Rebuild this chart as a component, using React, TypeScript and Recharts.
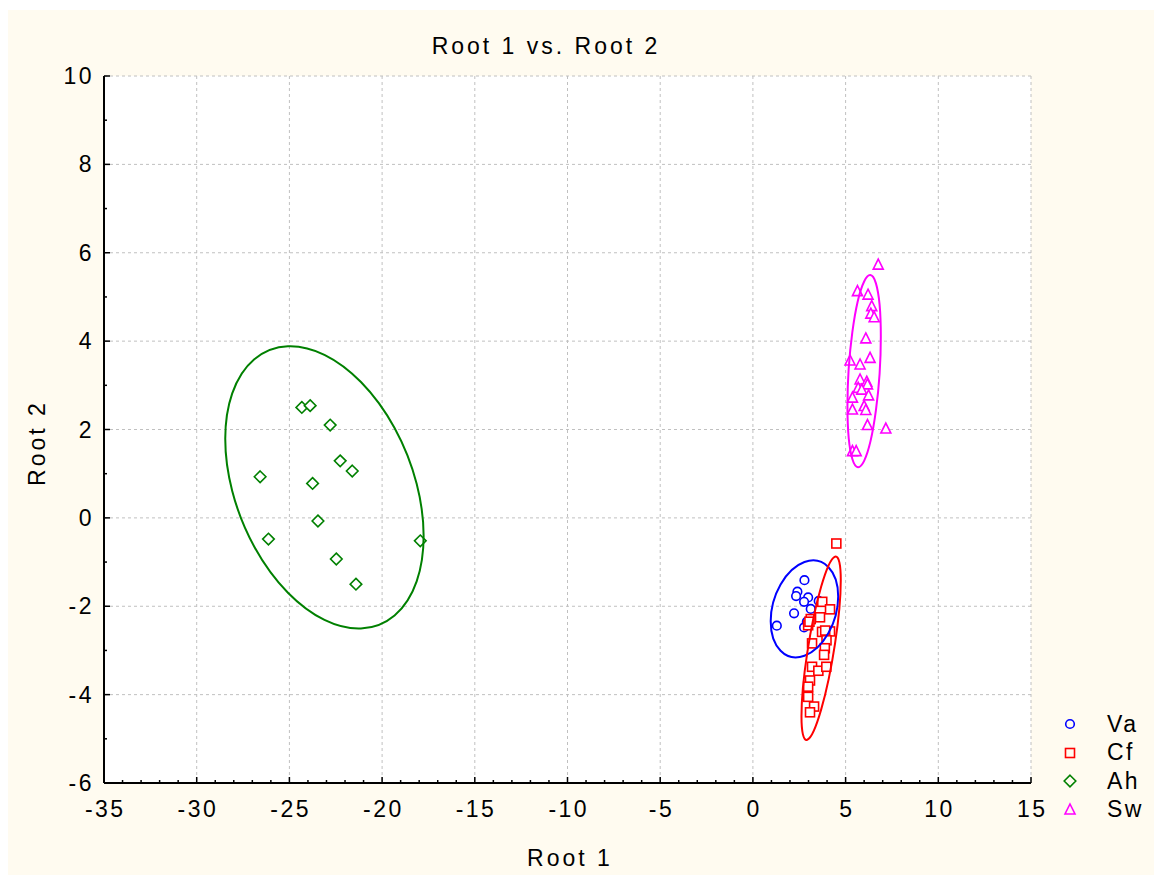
import React from 'react';
import { ScatterChart, Scatter, XAxis, YAxis, CartesianGrid } from 'recharts';

// Discriminant analysis scores, Root 1 vs Root 2
const groupNames = ['Va', 'Cf', 'Ah', 'Sw'];
const groupColors: Record<string, string> = { Va: '#0000ff', Cf: '#ff0000', Ah: '#008000', Sw: '#ff00ff' };
const groupMarkers: Record<string, string> = { Va: 'circle', Cf: 'square', Ah: 'diamond', Sw: 'triangle' };

const vaPoints = [
  { x: 2.78, y: -1.41 }, { x: 2.40, y: -1.67 }, { x: 2.33, y: -1.77 }, { x: 2.98, y: -1.80 },
  { x: 2.76, y: -1.90 }, { x: 3.12, y: -2.06 }, { x: 2.22, y: -2.16 }, { x: 1.29, y: -2.44 },
  { x: 2.76, y: -2.48 }, { x: 2.91, y: -2.35 }, { x: 3.55, y: -1.88 },
];

const cfPoints = [
  { x: 4.50, y: -0.58 }, { x: 3.74, y: -1.90 }, { x: 4.16, y: -2.07 }, { x: 3.62, y: -2.25 },
  { x: 3.12, y: -2.29 }, { x: 2.98, y: -2.43 }, { x: 3.73, y: -2.58 }, { x: 4.16, y: -2.57 },
  { x: 3.97, y: -2.77 }, { x: 3.19, y: -2.84 }, { x: 3.88, y: -2.95 }, { x: 3.84, y: -3.10 },
  { x: 3.19, y: -3.37 }, { x: 3.53, y: -3.46 }, { x: 3.96, y: -3.37 }, { x: 3.08, y: -3.68 },
  { x: 2.98, y: -3.82 }, { x: 2.98, y: -4.05 }, { x: 3.30, y: -4.27 }, { x: 3.08, y: -4.40 },
  { x: 3.05, y: -2.35 }, { x: 3.90, y: -2.55 },
];

const ahPoints = [
  { x: -24.33, y: 2.50 }, { x: -23.88, y: 2.54 }, { x: -22.80, y: 2.10 }, { x: -26.58, y: 0.93 },
  { x: -23.75, y: 0.78 }, { x: -22.26, y: 1.29 }, { x: -21.61, y: 1.06 }, { x: -23.46, y: -0.07 },
  { x: -26.13, y: -0.48 }, { x: -22.47, y: -0.93 }, { x: -21.41, y: -1.50 }, { x: -17.94, y: -0.52 },
];

const swPoints = [
  { x: 6.76, y: 5.72 }, { x: 5.64, y: 5.12 }, { x: 6.21, y: 5.04 }, { x: 6.41, y: 4.78 },
  { x: 6.36, y: 4.61 }, { x: 6.54, y: 4.53 }, { x: 6.09, y: 4.05 }, { x: 5.24, y: 3.55 },
  { x: 6.32, y: 3.61 }, { x: 5.78, y: 3.46 }, { x: 5.78, y: 3.12 }, { x: 6.14, y: 3.07 },
  { x: 6.18, y: 3.01 }, { x: 5.68, y: 2.93 }, { x: 5.87, y: 2.89 }, { x: 6.24, y: 2.76 },
  { x: 5.37, y: 2.71 }, { x: 6.00, y: 2.52 }, { x: 5.37, y: 2.44 }, { x: 6.09, y: 2.43 },
  { x: 6.18, y: 2.09 }, { x: 7.17, y: 2.01 }, { x: 5.37, y: 1.50 }, { x: 5.57, y: 1.50 },
];

// ellipses: centre, rightmost point on the ellipse, point on the ellipse straight above the centre
const vaEllipse = [
  { x: 2.78, y: -2.06, pt: 'center' }, { x: 4.60, y: -1.78, pt: 'right' }, { x: 2.78, y: -1.00, pt: 'top' },
];
const cfEllipse = [
  { x: 3.68, y: -2.95, pt: 'center' }, { x: 4.74, y: -1.41, pt: 'right' }, { x: 3.68, y: -1.56, pt: 'top' },
];
const ahEllipse = [
  { x: -23.11, y: 0.69, pt: 'center' }, { x: -17.76, y: -0.41, pt: 'right' }, { x: -23.11, y: 3.69, pt: 'top' },
];
const swEllipse = [
  { x: 6.00, y: 3.32, pt: 'center' }, { x: 6.90, y: 4.10, pt: 'right' }, { x: 6.00, y: 5.35, pt: 'top' },
];

const xMajor = [-35, -30, -25, -20, -15, -10, -5, 0, 5, 10, 15];
const yMajor = [-6, -4, -2, 0, 2, 4, 6, 8, 10];
const range = (a: number, b: number) => Array.from({ length: b - a + 1 }, (_, i) => a + i);
const xTicks = range(-35, 15);
const yTicks = range(-6, 10);

const FONT = '"Liberation Sans", Arial, Helvetica, sans-serif';
const FONT_SIZE = 23;
const TICK_SPACING = 2.5;
const TITLE_SPACING = 3;

const marker = (kind: string, cx: number, cy: number, color: string, fill: string) => {
  const common = { stroke: color, strokeWidth: 1.6, fill };
  if (kind === 'circle') return <circle cx={cx} cy={cy} r={4.3} {...common} />;
  if (kind === 'square') return <rect x={cx - 4.5} y={cy - 4.5} width={9} height={9} {...common} />;
  if (kind === 'diamond')
    return <path d={`M${cx},${cy - 5.8}L${cx + 5.8},${cy}L${cx},${cy + 5.8}L${cx - 5.8},${cy}Z`} {...common} />;
  return <path d={`M${cx},${cy - 6}L${cx + 5},${cy + 4}L${cx - 5},${cy + 4}Z`} {...common} />;
};

const pointShape = (name: string) => (p: any) =>
  marker(groupMarkers[name], p.cx, p.cy, groupColors[name], '#ffffff');

// draws the ellipse once all three reference points have been placed by the scales
const ellipseShape = (color: string) => {
  const placed: Record<string, { cx: number; cy: number }> = {};
  return (p: any) => {
    placed[p.payload.pt] = { cx: p.cx, cy: p.cy };
    if (p.payload.pt !== 'top' || !placed.center || !placed.right) return <g />;
    const c = placed.center;
    const r = placed.right;
    const t = placed.top;
    const m = `matrix(${r.cx - c.cx} ${r.cy - c.cy} ${t.cx - c.cx} ${t.cy - c.cy} ${c.cx} ${c.cy})`;
    return (
      <circle r={1} cx={0} cy={0} fill="none" stroke={color} strokeWidth={2}
        vectorEffect="non-scaling-stroke" transform={m} />
    );
  };
};

const tickText = { fontSize: FONT_SIZE, fontFamily: FONT, letterSpacing: TICK_SPACING, fill: '#000' };

const BottomTick = (p: any) => {
  const v = p.payload.value;
  const major = xMajor.includes(v);
  return (
    <g>
      <line x1={p.x} x2={p.x} y1={p.y} y2={p.y - (major ? 6 : 3)} stroke="#000" strokeWidth={1.5} />
      {major && (
        <text x={p.x + TICK_SPACING / 2} y={p.y + 34} textAnchor="middle" {...tickText}>{v}</text>
      )}
    </g>
  );
};

const TopTick = (p: any) => {
  const major = xMajor.includes(p.payload.value);
  return <line x1={p.x} x2={p.x} y1={p.y} y2={p.y + (major ? 6 : 3)} stroke="#000" strokeWidth={1.5} />;
};

const LeftTick = (p: any) => {
  const v = p.payload.value;
  const major = yMajor.includes(v);
  return (
    <g>
      <line x1={p.x} x2={p.x + (major ? 6 : 3)} y1={p.y} y2={p.y} stroke="#000" strokeWidth={1.5} />
      {major && (
        <text x={p.x - 10} y={p.y + 8} textAnchor="end" {...tickText}>{v}</text>
      )}
    </g>
  );
};

const RightTick = (p: any) => {
  const major = yMajor.includes(p.payload.value);
  return <line x1={p.x} x2={p.x - (major ? 6 : 3)} y1={p.y} y2={p.y} stroke="#000" strokeWidth={1.5} />;
};

const frameLine = { stroke: '#000', strokeWidth: 2 };

const textStyle: React.CSSProperties = {
  position: 'absolute',
  fontFamily: FONT,
  fontSize: FONT_SIZE,
  letterSpacing: TITLE_SPACING,
  color: '#000',
  whiteSpace: 'nowrap',
  lineHeight: 1,
};

const series = [
  { name: 'Va', points: vaPoints, ellipse: vaEllipse },
  { name: 'Cf', points: cfPoints, ellipse: cfEllipse },
  { name: 'Ah', points: ahPoints, ellipse: ahEllipse },
  { name: 'Sw', points: swPoints, ellipse: swEllipse },
];

export default function App() {
  return (
    <div style={{ position: 'relative', top: 2, width: 1154, height: 867, background: '#fffbf0' }}>
      <ScatterChart width={1154} height={867} margin={{ top: 66, right: 131, left: 36, bottom: 34 }}>
        <CartesianGrid
          stroke="#c0c0c0"
          strokeDasharray="3 3"
          fill="#ffffff"
          verticalValues={xMajor}
          horizontalValues={yMajor}
        />
        <XAxis
          type="number"
          dataKey="x"
          domain={[-35, 15]}
          ticks={xTicks}
          interval={0}
          allowDataOverflow
          height={60}
          tickSize={0}
          tickMargin={0}
          tickLine={false}
          axisLine={frameLine}
          tick={BottomTick}
        />
        <XAxis
          xAxisId="top"
          orientation="top"
          type="number"
          domain={[-35, 15]}
          ticks={xTicks}
          interval={0}
          allowDataOverflow
          height={0}
          tickSize={0}
          tickMargin={0}
          tickLine={false}
          axisLine={frameLine}
          tick={TopTick}
        />
        <YAxis
          type="number"
          dataKey="y"
          domain={[-6, 10]}
          ticks={yTicks}
          interval={0}
          allowDataOverflow
          width={60}
          tickSize={0}
          tickMargin={0}
          tickLine={false}
          axisLine={frameLine}
          tick={LeftTick}
        />
        <YAxis
          yAxisId="right"
          orientation="right"
          type="number"
          domain={[-6, 10]}
          ticks={yTicks}
          interval={0}
          allowDataOverflow
          width={0}
          tickSize={0}
          tickMargin={0}
          tickLine={false}
          axisLine={frameLine}
          tick={RightTick}
        />
        {series.map((s) => (
          <Scatter
            key={s.name}
            name={s.name}
            data={s.points}
            shape={pointShape(s.name)}
            isAnimationActive={false}
          />
        ))}
        {series.map((s) => (
          <Scatter
            key={s.name + '-ellipse'}
            name={s.name + ' ellipse'}
            data={s.ellipse}
            shape={ellipseShape(groupColors[s.name])}
            isAnimationActive={false}
          />
        ))}
      </ScatterChart>

      <div style={{ ...textStyle, left: 538, top: 36, transform: 'translate(-50%, -50%)' }}>Root 1 vs. Root 2</div>
      <div style={{ ...textStyle, left: 562, top: 848, transform: 'translate(-50%, -50%)' }}>Root 1</div>
      <div style={{ ...textStyle, left: 29, top: 433, transform: 'translate(-50%, -50%) rotate(-90deg)' }}>Root 2</div>

      <div style={{ position: 'absolute', left: 1052, top: 700 }}>
        {groupNames.map((name) => (
          <div key={name} style={{ display: 'flex', alignItems: 'center', height: 28.5 }}>
            <svg width={20} height={20} style={{ display: 'block' }}>
              {marker(groupMarkers[name], 10, 10, groupColors[name], 'none')}
            </svg>
            <span style={{ ...textStyle, position: 'static', marginLeft: 27, letterSpacing: TICK_SPACING }}>{name}</span>
          </div>
        ))}
      </div>
    </div>
  );
}
